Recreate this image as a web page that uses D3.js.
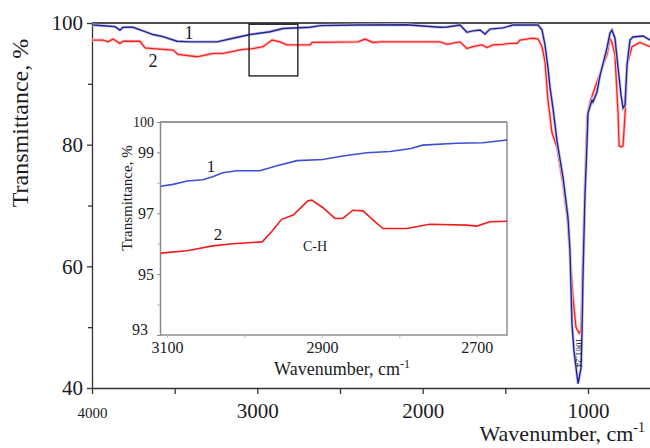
<!DOCTYPE html>
<html>
<head>
<meta charset="utf-8">
<script src="https://cdn.jsdelivr.net/npm/d3@7"></script>
<style>
body{margin:0;background:#fff}
text{font-family:"Liberation Serif","Times New Roman",serif;fill:#1c1c24}
</style>
</head>
<body>
<script>
// main spectrum: [wavenumber, transmittance]
const mainBlue = [[4000,99.8],[3994,99.67],[3909,99.5],[3861,99.4],[3831,98.85],[3812,99.3],[3752,99.3],[3692,98.7],[3631,98.1],[3571,97.75],[3486,97.0],[3407,96.9],[3244,96.9],[3147,97.5],[3044,98.1],[2923,98.57],[2845,99.1],[2681,99.3],[2621,99.57],[2397,99.67],[2100,99.7],[1895,99.3],[1853,99.35],[1774,99.67],[1732,98.47],[1696,98.7],[1653,98.85],[1623,98.2],[1593,99.0],[1514,99.2],[1454,99.67],[1302,99.67],[1278,98.85],[1260,96.4],[1242,92.6],[1230,89.45],[1212,86.0],[1187,80.5],[1151,74.6],[1121,68.0],[1109,62.6],[1097,50.6],[1085,46.1],[1060,40.7],[1042,43.3],[1036,49.4],[1030,58.8],[1018,72],[1006,80.2],[1000,85.2],[976,87.3],[970,87.0],[946,88.6],[927,91.4],[885,95.9],[867,98.35],[855,98.85],[837,97.5],[818,92.6],[800,88.1],[788,86.0],[776,86.5],[764,93.1],[746,97.2],[728,97.7],[667,97.86],[625,97.2]];
const mainRed = [[4000,97.2],[3933,97.2],[3903,96.9],[3873,97.36],[3831,96.65],[3812,97.0],[3710,97.0],[3679,95.9],[3631,95.8],[3510,95.55],[3480,94.85],[3365,94.45],[3268,95.0],[3208,95.0],[3087,95.66],[3026,95.8],[2966,96.1],[2911,97.2],[2863,96.9],[2821,96.4],[2681,96.4],[2669,96.8],[2391,96.9],[2349,97.36],[2300,96.8],[2258,96.9],[1895,96.9],[1853,96.5],[1774,96.9],[1732,95.8],[1696,96.1],[1641,96.4],[1611,95.95],[1575,96.4],[1514,96.5],[1472,96.65],[1429,96.65],[1411,97.2],[1333,97.5],[1302,97.36],[1278,96.1],[1260,93.6],[1242,87.3],[1218,82],[1187,79.5],[1151,73.5],[1121,67],[1109,62],[1091,55],[1073,50],[1054,49],[1042,49.5],[1036,56],[1030,62],[1018,73],[1006,84.5],[988,87.0],[946,90.3],[885,94.8],[867,97.5],[855,96.8],[837,94.8],[818,85.0],[812,79.8],[800,79.6],[788,79.8],[776,85.0],[764,93.1],[734,96.1],[686,96.8],[625,96.1]];

// inset (C-H region)
const insetBlue = [[3108,97.89],[3092,97.95],[3074,98.06],[3054,98.1],[3041,98.2],[3028,98.33],[3010,98.4],[2980,98.4],[2958,98.56],[2932,98.73],[2899,98.77],[2873,98.88],[2842,98.99],[2812,99.03],[2785,99.13],[2770,99.24],[2726,99.3],[2692,99.32],[2661,99.41]];
const insetRed = [[3108,95.69],[3074,95.77],[3041,95.93],[3015,96.0],[2977,96.06],[2965,96.39],[2952,96.8],[2937,96.94],[2918,97.41],[2913,97.43],[2899,97.19],[2883,96.83],[2873,96.83],[2860,97.1],[2847,97.08],[2829,96.67],[2821,96.5],[2790,96.5],[2761,96.64],[2713,96.61],[2700,96.58],[2683,96.72],[2661,96.74]];

const mainXTicks = [4000,3500,3000,2500,2000,1500,1000];
const mainXLabels = [4000,3000,2000,1000];
const mainYTicks = [100,80,60,40];
const mainYMinor = [90,70,50];
const insetXTicks = [3100,2900,2700];
const insetXMinor = [3000,2800];
const insetYTicks = [100,99,97,95,93];
const insetYMinor = [98,96,94];
const zoomBox = [3050,2755,99.8,91.3];
const peakLabel = "1061.24";

const w = 650, h = 448;
let svg = d3.select("body").append("svg").attr("width", w).attr("height", h);

let x = d3.scaleLinear().domain([4000,625]).range([92,650]);
let y = d3.scaleLinear().domain([40,100]).range([388,23]);

// main axes
let yAx = svg.append("g").attr("transform","translate(92,0)")
    .call(d3.axisLeft(y).tickValues(mainYTicks).tickSize(5).tickSizeOuter(0).tickPadding(4).tickFormat(d3.format("d")));
yAx.selectAll("text").style("font-size","21px");
svg.append("g").attr("transform","translate(92,0)")
    .call(d3.axisLeft(y).tickValues(mainYMinor).tickSize(4).tickSizeOuter(0).tickFormat(""))
    .call(g => g.select(".domain").remove())
    .selectAll("line").attr("stroke","#aaa");

let xAx = svg.append("g").attr("transform","translate(0,388)")
    .call(d3.axisBottom(x).tickValues(mainXTicks).tickSize(6).tickSizeOuter(0).tickPadding(9)
        .tickFormat(d => mainXLabels.includes(d) ? d : ""));
xAx.selectAll("text").style("font-size", d => d===4000 ? "15px" : "21px")
    .attr("dy", d => d===4000 ? "1.0em" : "0.71em");
svg.selectAll(".domain, .tick line").attr("stroke","#333").attr("stroke-width",1.3);

// top line at 100 %
svg.append("line").attr("x1",x(4000)).attr("x2",w).attr("y1",y(100)).attr("y2",y(100))
    .attr("stroke","#111").attr("stroke-width",1.4);

svg.append("text").attr("transform","translate(28,123) rotate(-90)")
    .attr("text-anchor","middle").style("font-size","24px").text("Transmittance, %");
let xt = svg.append("text").attr("x",645).attr("y",441).attr("text-anchor","end").style("font-size","22px");
xt.append("tspan").text("Wavenumber, cm");
xt.append("tspan").attr("dy",-9).style("font-size","14px").text("-1");

// curves
let line = d3.line().x(d => x(d[0])).y(d => y(d[1]));
svg.append("path").datum(mainRed).attr("d",line).attr("fill","none")
    .attr("stroke","#ffc4c4").attr("stroke-width",3);
svg.append("path").datum(mainRed).attr("d",line).attr("fill","none")
    .attr("stroke","#ff1e1e").attr("stroke-width",1.3);
svg.append("path").datum(mainBlue).attr("d",line).attr("fill","none")
    .attr("stroke","#c5c9ee").attr("stroke-width",3);
svg.append("path").datum(mainBlue).attr("d",line).attr("fill","none")
    .attr("stroke","#24248f").attr("stroke-width",1.4);

svg.append("rect").attr("x",x(zoomBox[0])).attr("y",y(zoomBox[2]))
    .attr("width",x(zoomBox[1])-x(zoomBox[0])).attr("height",y(zoomBox[3])-y(zoomBox[2]))
    .attr("fill","none").attr("stroke","#111").attr("stroke-width",1.3);

svg.append("text").attr("x",189).attr("y",39).attr("text-anchor","middle").style("font-size","18px").text("1");
svg.append("text").attr("x",153).attr("y",67).attr("text-anchor","middle").style("font-size","18px").text("2");
svg.append("text").attr("transform","translate(576,338) rotate(90)").style("font-size","9px").text(peakLabel);

// inset
let ix = d3.scaleLinear().domain([3109,2661]).range([160,507]);
let iy = d3.scaleLinear().domain([93,100]).range([335,122]);
let inset = svg.append("g");
inset.append("rect").attr("x",160).attr("y",122).attr("width",347).attr("height",213).attr("fill","#fff");
inset.append("line").attr("x1",160).attr("x2",507).attr("y1",122).attr("y2",122).attr("stroke","#333").attr("stroke-width",1.2);
inset.append("line").attr("x1",507).attr("x2",507).attr("y1",122).attr("y2",336).attr("stroke","#aaa").attr("stroke-width",2);
inset.append("line").attr("x1",160).attr("x2",508).attr("y1",335).attr("y2",335).attr("stroke","#aaa").attr("stroke-width",2);
let iyAx = inset.append("g").attr("transform","translate(160,0)")
    .call(d3.axisLeft(iy).tickValues(insetYTicks).tickSize(3).tickSizeOuter(0).tickPadding(3).tickFormat(d3.format("d")));
iyAx.select(".domain").attr("stroke","#888").attr("stroke-width",1.5);
iyAx.selectAll("line").attr("stroke","#888");
iyAx.selectAll("text").style("font-size", d => d===100 ? "14px" : "16px")
    .attr("dy", d => d===93 ? "-0.05em" : "0.32em")
    .attr("x", d => d===93 ? -12 : -6);
inset.append("g").attr("transform","translate(160,0)")
    .call(d3.axisLeft(iy).tickValues(insetYMinor).tickSize(3).tickFormat(""))
    .call(g => g.select(".domain").remove())
    .selectAll("line").attr("stroke","#bbb");
let ixAx = inset.append("g").attr("transform","translate(0,335)")
    .call(d3.axisBottom(ix).tickValues(insetXTicks.concat(insetXMinor)).tickSize(3).tickSizeOuter(0).tickPadding(4)
        .tickFormat(d => insetXTicks.includes(d) ? d : ""));
ixAx.select(".domain").remove();
ixAx.selectAll("line").attr("stroke","#bbb");
ixAx.selectAll("text").style("font-size","16px");

inset.append("text").attr("transform","translate(132,198) rotate(-90)")
    .attr("text-anchor","middle").style("font-size","15px").text("Transmittance, %");
let ixt = inset.append("text").attr("x",342).attr("y",375).attr("text-anchor","middle").style("font-size","18px");
ixt.append("tspan").text("Wavenumber, cm");
ixt.append("tspan").attr("dy",-7).style("font-size","12px").text("-1");

let iline = d3.line().x(d => ix(d[0])).y(d => iy(d[1]));
inset.append("path").datum(insetBlue).attr("d",iline).attr("fill","none")
    .attr("stroke","#3d4fd6").attr("stroke-width",1.6);
inset.append("path").datum(insetRed).attr("d",iline).attr("fill","none")
    .attr("stroke","#f01c1c").attr("stroke-width",1.6);

inset.append("text").attr("x",211).attr("y",172).attr("text-anchor","middle").style("font-size","17px").text("1");
inset.append("text").attr("x",218).attr("y",240).attr("text-anchor","middle").style("font-size","17px").text("2");
inset.append("text").attr("x",315).attr("y",251).attr("text-anchor","middle").style("font-size","14px").text("C-H");
</script>
</body>
</html>
